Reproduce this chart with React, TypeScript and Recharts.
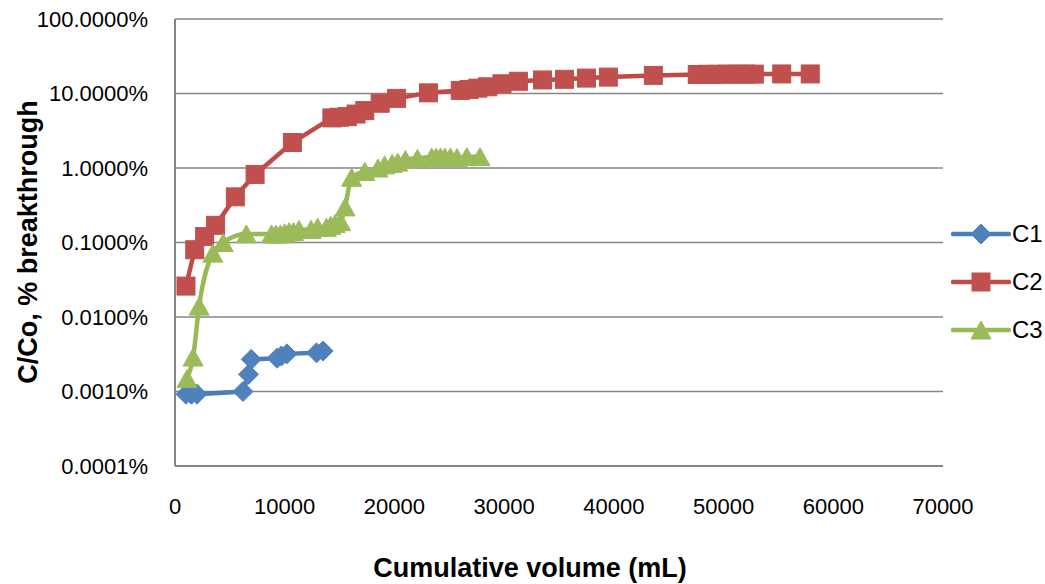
import React from 'react';
import { LineChart, Line, XAxis, YAxis, CartesianGrid, Legend } from 'recharts';

const C1_X = [1000, 1500, 2000, 6200, 6700, 6950, 9300, 9700, 10200, 12900, 13500];
const C1_Y = [0.00092, 0.00092, 0.00092, 0.001, 0.0017, 0.0027, 0.0028, 0.003, 0.0032, 0.0033, 0.0035];

const C2_X = [1000, 1800, 2700, 3700, 5500, 7300, 10700, 14300, 15000, 15700, 16500, 17300, 18700, 20200, 23100, 26000, 26800, 27600, 28500, 29800, 31300, 33500, 35500, 37500, 39500, 43600, 47600, 48500, 49400, 50300, 51200, 52000, 52800, 55300, 57900];
const C2_Y = [0.026, 0.08, 0.12, 0.17, 0.41, 0.82, 2.2, 4.7, 4.8, 4.9, 5.3, 5.9, 7.4, 8.6, 10.2, 11.0, 11.3, 11.8, 12.3, 13.5, 14.6, 15.2, 15.5, 16.1, 16.6, 17.5, 18.0, 18.1, 18.1, 18.2, 18.2, 18.2, 18.2, 18.3, 18.3];

const C3_X = [1100, 1650, 2200, 3450, 4400, 6500, 8800, 9200, 9600, 10000, 10400, 10800, 11300, 12400, 13000, 13800, 14200, 14600, 15100, 15500, 16100, 17300, 18500, 19100, 19800, 20300, 21000, 22100, 23400, 23800, 24200, 24600, 25100, 25700, 26600, 27800];
const C3_Y = [0.0015, 0.0029, 0.014, 0.072, 0.1, 0.13, 0.13, 0.13, 0.13, 0.135, 0.14, 0.14, 0.15, 0.15, 0.16, 0.16, 0.17, 0.18, 0.19, 0.3, 0.75, 0.9, 1.0, 1.1, 1.15, 1.2, 1.3, 1.35, 1.4, 1.4, 1.4, 1.4, 1.4, 1.38, 1.42, 1.42];

const X_TICKS = [0, 10000, 20000, 30000, 40000, 50000, 60000, 70000];
const Y_TICKS = [0.0001, 0.001, 0.01, 0.1, 1, 10, 100];

const SERIES_NAMES = ['C1', 'C2', 'C3'];

const toRows = (xs: number[], ys: number[]) => xs.map((x, i) => ({ x, y: ys[i] }));
const c1 = toRows(C1_X, C1_Y);
const c2 = toRows(C2_X, C2_Y);
const c3 = toRows(C3_X, C3_Y);

const BLUE = '#4F81BD';
const BLUE_LINE = '#4A7EBB';
const RED = '#C0504D';
const RED_LINE = '#BE4B48';
const GREEN = '#9BBB59';
const GREEN_LINE = '#98B954';
const GRID = '#868686';

const shape = (kind: string, cx: number, cy: number, color: string, key?: any) => {
  if (kind === 'diamond') {
    const r = 10;
    return <path key={key} d={`M${cx},${cy - r}L${cx + r},${cy}L${cx},${cy + r}L${cx - r},${cy}Z`} fill={color} stroke={color} strokeWidth={1} />;
  }
  if (kind === 'square') {
    const h = 9;
    return <rect key={key} x={cx - h} y={cy - h} width={2 * h} height={2 * h} fill={color} stroke={color} strokeWidth={1} />;
  }
  const w = 10;
  const hh = 9;
  return <path key={key} d={`M${cx},${cy - hh}L${cx + w},${cy + hh}L${cx - w},${cy + hh}Z`} fill={color} stroke={color} strokeWidth={1} />;
};

const makeDot = (kind: string, color: string) => (props: any) => {
  const { cx, cy, index } = props;
  if (cx == null || cy == null || isNaN(cx) || isNaN(cy)) return <g key={`n-${kind}-${index}`} />;
  return shape(kind, cx, cy, color, `${kind}-${index}`);
};

const LEGEND_ITEMS = [
  { name: SERIES_NAMES[0], kind: 'diamond', color: BLUE, line: BLUE_LINE },
  { name: SERIES_NAMES[1], kind: 'square', color: RED, line: RED_LINE },
  { name: SERIES_NAMES[2], kind: 'triangle', color: GREEN, line: GREEN_LINE },
];

const renderLegend = () => (
  <div>
    {LEGEND_ITEMS.map((it) => (
      <div key={it.name} style={{ display: 'flex', alignItems: 'center', height: 48 }}>
        <svg width={60} height={24} style={{ display: 'block' }}>
          <line x1={2} y1={12} x2={58} y2={12} stroke={it.line} strokeWidth={4.5} strokeLinecap="round" />
          {shape(it.kind, 30, 12, it.color)}
        </svg>
        <span style={{ fontSize: 24, color: '#000', marginLeft: 1, lineHeight: '24px' }}>{it.name}</span>
      </div>
    ))}
  </div>
);

export default function App() {
  return (
    <div style={{ position: 'absolute', left: 0, top: 0, width: 1045, height: 584, background: '#fff', fontFamily: '"Liberation Sans", Arial, sans-serif' }}>
      <LineChart width={1045} height={584} margin={{ top: 19, right: 102, bottom: 0, left: 0 }}>
        <CartesianGrid vertical={false} stroke={GRID} strokeWidth={1.5} />
        <XAxis
          type="number"
          dataKey="x"
          domain={[0, 70000]}
          ticks={X_TICKS}
          allowDataOverflow
          tickLine={false}
          tickSize={0}
          tickMargin={32}
          height={118}
          axisLine={{ stroke: GRID, strokeWidth: 2 }}
          tick={{ fill: '#000', fontSize: 22 }}
        />
        <YAxis
          type="number"
          dataKey="y"
          scale="log"
          domain={[0.0001, 100]}
          ticks={Y_TICKS}
          allowDataOverflow
          tickLine={false}
          tickSize={0}
          tickMargin={27}
          width={175}
          axisLine={{ stroke: GRID, strokeWidth: 2 }}
          tick={{ fill: '#000', fontSize: 22 }}
          tickFormatter={(v: number) => `${v.toFixed(4)}%`}
        />
        <Legend
          layout="vertical"
          align="center"
          verticalAlign="middle"
          content={renderLegend}
          wrapperStyle={{ left: 951, top: 210, width: 94, height: 150 }}
        />
        <Line data={c1} dataKey="y" name={SERIES_NAMES[0]} type="linear" stroke={BLUE_LINE} strokeWidth={4.5} dot={makeDot('diamond', BLUE)} activeDot={false} isAnimationActive={false} />
        <Line data={c2} dataKey="y" name={SERIES_NAMES[1]} type="linear" stroke={RED_LINE} strokeWidth={4.5} dot={makeDot('square', RED)} activeDot={false} isAnimationActive={false} />
        <Line data={c3} dataKey="y" name={SERIES_NAMES[2]} type="monotone" stroke={GREEN_LINE} strokeWidth={4.5} dot={makeDot('triangle', GREEN)} activeDot={false} isAnimationActive={false} />
      </LineChart>
      <svg width={1045} height={584} style={{ position: 'absolute', left: 0, top: 0, pointerEvents: 'none' }}>
        <text x={530} y={577} textAnchor="middle" fontSize={27} fontWeight="bold" fill="#000">Cumulative volume (mL)</text>
        <text x={0} y={0} transform="translate(37,242) rotate(-90)" textAnchor="middle" fontSize={27} fontWeight="bold" fill="#000">C/Co, % breakthrough</text>
      </svg>
    </div>
  );
}
